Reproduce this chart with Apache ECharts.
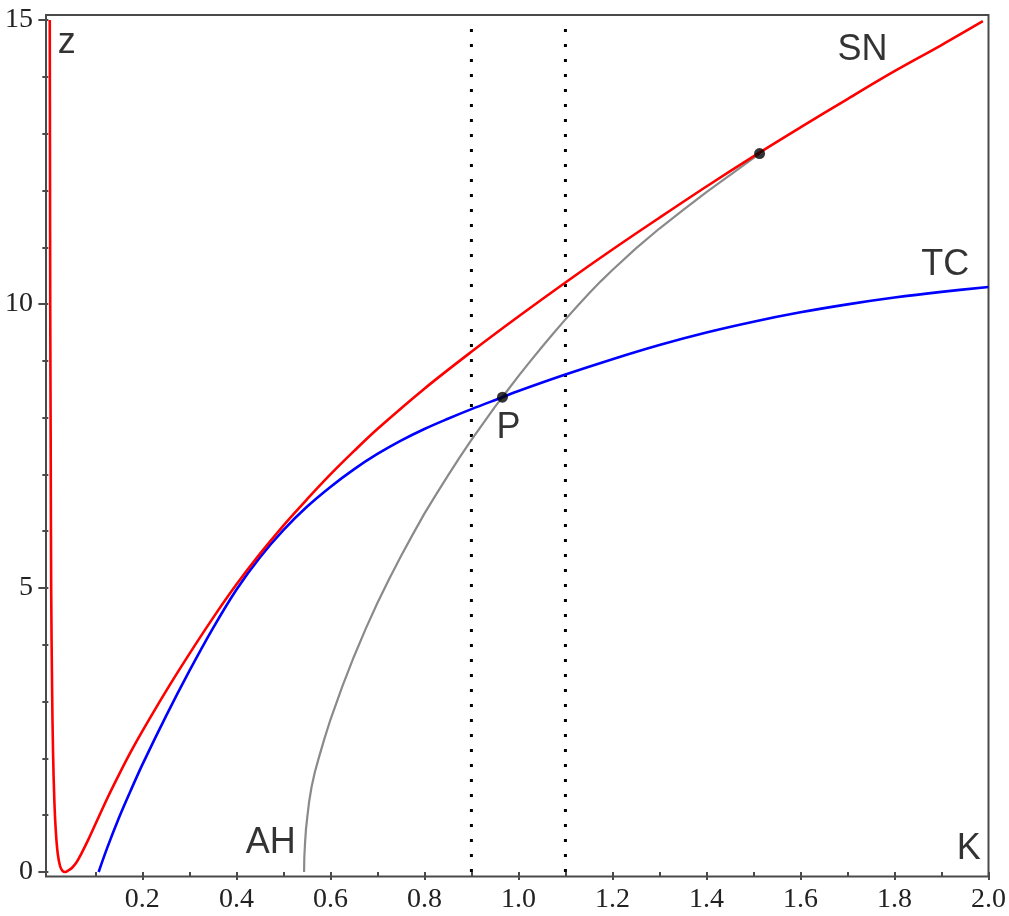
<!DOCTYPE html>
<html>
<head>
<meta charset="utf-8">
<title>SN, TC and AH curves in the (K, z) plane</title>
<script src="https://cdn.jsdelivr.net/npm/echarts@6/dist/echarts.min.js"></script>
<style>
  html, body { margin: 0; padding: 0; background: #fff; }
  #chart { width: 1009px; height: 916px; }
</style>
</head>
<body>
<div id="chart"></div>
<script>
// Saddle-node curve (K, z)
const snCurve = [
  [0.003, 15.0], [0.0035, 12.5], [0.004, 10.0], [0.005, 7.5], [0.006, 5.0],
  [0.008, 3.2], [0.010, 2.1], [0.013, 1.2], [0.016, 0.7], [0.020, 0.32],
  [0.025, 0.1], [0.030, 0.02], [0.036, 0.0], [0.043, 0.03], [0.050, 0.07],
  [0.060, 0.17], [0.070, 0.32], [0.085, 0.57], [0.100, 0.84], [0.125, 1.29],
  [0.150, 1.71], [0.175, 2.11], [0.200, 2.48], [0.250, 3.18], [0.300, 3.84],
  [0.350, 4.47], [0.400, 5.06], [0.450, 5.60], [0.500, 6.10], [0.550, 6.56],
  [0.600, 7.00], [0.650, 7.41], [0.700, 7.80], [0.800, 8.51], [0.900, 9.16],
  [1.000, 9.78], [1.100, 10.38], [1.200, 10.96], [1.300, 11.52], [1.400, 12.07],
  [1.500, 12.60], [1.600, 13.11], [1.700, 13.61], [1.800, 14.10], [1.900, 14.56],
  [1.988, 14.98]
];

// Transcritical curve (K, z)
const tcCurve = [
  [0.107, 0.0], [0.125, 0.42], [0.150, 0.95], [0.175, 1.43], [0.200, 1.89],
  [0.250, 2.74], [0.300, 3.54], [0.350, 4.29], [0.400, 4.97], [0.450, 5.54],
  [0.500, 6.02], [0.550, 6.43], [0.600, 6.78], [0.650, 7.09], [0.700, 7.36],
  [0.750, 7.595], [0.800, 7.80], [0.850, 7.98], [0.900, 8.15], [0.966, 8.36],
  [1.000, 8.47], [1.100, 8.76], [1.200, 9.03], [1.300, 9.28], [1.400, 9.50],
  [1.500, 9.69], [1.600, 9.855], [1.700, 9.995], [1.800, 10.115], [1.900, 10.215],
  [2.000, 10.30]
];

// Andronov-Hopf curve (K, z)
const ahCurve = [
  [0.544, 0.0], [0.5445, 0.25], [0.546, 0.5], [0.548, 0.75], [0.551, 0.98],
  [0.555, 1.25], [0.560, 1.5], [0.567, 1.76], [0.575, 2.0], [0.587, 2.34],
  [0.600, 2.68], [0.625, 3.26], [0.650, 3.79], [0.675, 4.28], [0.700, 4.735],
  [0.725, 5.16], [0.750, 5.56], [0.775, 5.94], [0.800, 6.31], [0.825, 6.65],
  [0.850, 6.98], [0.875, 7.30], [0.900, 7.61], [0.925, 7.90], [0.950, 8.19],
  [0.966, 8.36], [0.975, 8.46], [1.000, 8.73], [1.025, 8.99], [1.050, 9.245],
  [1.075, 9.49], [1.100, 9.73], [1.125, 9.96], [1.150, 10.185], [1.175, 10.40],
  [1.200, 10.60], [1.250, 10.98], [1.300, 11.33], [1.350, 11.655], [1.400, 11.97],
  [1.450, 12.27], [1.513, 12.65]
];

// Marked points: P (TC/AH crossing) and the AH end point on SN
const markedPoints = [[0.966, 8.36], [1.513, 12.65]];

// Vertical reference lines at K = 0.9 and K = 1.1
const refK = [0.9, 1.1];
const refZRange = [0, 15];

// Curve and axis labels
const curveLabels = [
  { name: 'z', value: [0.039, 14.6] },
  { name: 'SN', value: [1.732, 14.47] },
  { name: 'TC', value: [1.908, 10.69] },
  { name: 'AH', value: [0.473, 0.50] },
  { name: 'P', value: [0.979, 7.81] },
  { name: 'K', value: [1.958, 0.40] }
];

// Tick positions
const xMajorTicks = [0.2, 0.4, 0.6, 0.8, 1.0, 1.2, 1.4, 1.6, 1.8, 2.0];
const xMinorTicks = [0.1, 0.3, 0.5, 0.7, 0.9, 1.1, 1.3, 1.5, 1.7, 1.9];
const yMajorTicks = [0, 5, 10, 15];
const yMinorTicks = [1, 2, 3, 4, 6, 7, 8, 9, 11, 12, 13, 14];

const xRange = [-0.005, 2.0];
const yRange = [-0.08, 15.09];

const axisColor = '#4a4a4a';
const tickFont = { fontFamily: 'Liberation Serif', fontSize: 28, color: '#222' };

const chart = echarts.init(document.getElementById('chart'), null, { renderer: 'canvas' });

const refLines = refK.map(k => ({
  type: 'line',
  data: [[k, refZRange[0]], [k, refZRange[1]]],
  symbol: 'none',
  silent: true,
  lineStyle: { color: '#000', width: 3, type: [3, 12], cap: 'butt' },
  z: 2
}));

chart.setOption({
  animation: false,
  backgroundColor: '#fff',
  grid: {
    left: 46, right: 15, top: 15, bottom: 39.5,
    show: true, borderColor: axisColor, borderWidth: 2, backgroundColor: 'transparent'
  },
  xAxis: [
    {
      type: 'value', min: xRange[0], max: xRange[1], position: 'bottom',
      axisLine: { show: false },
      splitLine: { show: false },
      axisTick: { show: true, customValues: xMajorTicks, length: 8, lineStyle: { color: axisColor, width: 2 } },
      axisLabel: {
        show: true, customValues: xMajorTicks, margin: 9,
        formatter: v => v.toFixed(1), ...tickFont
      }
    },
    {
      type: 'value', min: xRange[0], max: xRange[1], position: 'bottom',
      axisLine: { show: false },
      splitLine: { show: false },
      axisTick: { show: true, customValues: xMinorTicks, length: 4, lineStyle: { color: axisColor, width: 2 } },
      axisLabel: { show: false }
    }
  ],
  yAxis: [
    {
      type: 'value', min: yRange[0], max: yRange[1], position: 'left',
      axisLine: { show: false },
      splitLine: { show: false },
      axisTick: { show: true, customValues: yMajorTicks, length: 10, lineStyle: { color: axisColor, width: 2 } },
      axisLabel: { show: true, customValues: yMajorTicks, margin: 13, ...tickFont }
    },
    {
      type: 'value', min: yRange[0], max: yRange[1], position: 'left',
      axisLine: { show: false },
      splitLine: { show: false },
      axisTick: { show: true, customValues: yMinorTicks, length: 6, lineStyle: { color: axisColor, width: 2 } },
      axisLabel: { show: false }
    }
  ],
  series: [
    ...refLines,
    {
      // densely sampled, drawn as a plain polyline
      name: 'AH', type: 'line', data: ahCurve, symbol: 'none', smooth: false,
      lineStyle: { color: '#8a8a8a', width: 2.2, join: 'round' }, z: 3
    },
    {
      name: 'TC', type: 'line', data: tcCurve, symbol: 'none', smooth: 0.35,
      lineStyle: { color: '#0000ff', width: 2.6 }, z: 4
    },
    {
      name: 'SN', type: 'line', data: snCurve, symbol: 'none', smooth: 0.35,
      lineStyle: { color: '#ff0000', width: 2.6 }, z: 5
    },
    {
      name: 'points', type: 'scatter', data: markedPoints, symbolSize: 11,
      itemStyle: { color: '#000' }, z: 6
    },
    {
      name: 'labels', type: 'scatter', data: curveLabels, symbolSize: 1,
      itemStyle: { color: 'transparent' },
      label: {
        show: true, position: 'inside', formatter: p => p.name,
        fontFamily: 'Liberation Sans', fontSize: 36, color: '#000'
      },
      z: 7
    }
  ]
});
</script>
</body>
</html>
